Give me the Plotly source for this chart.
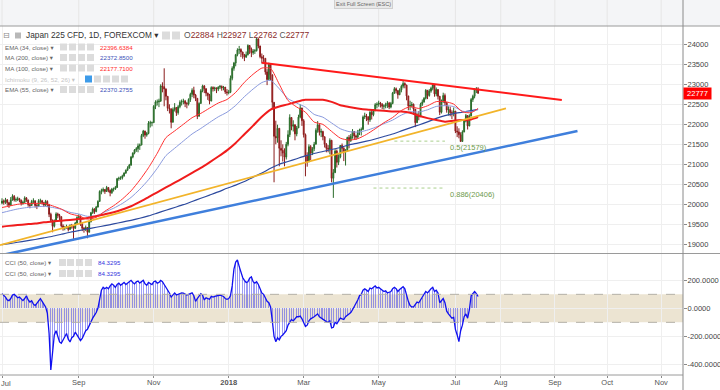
import pandas as pd
import plotly.graph_objects as go
from plotly.subplots import make_subplots

# ---------------- data ----------------
dates = pd.bdate_range("2017-07-03", "2018-07-19")
first_open = 20030
closes = [
    20080, 20050, 20110, 20040, 19980, 20110, 20200, 20110, 20120, 20140,
    20100, 20020, 20050, 20160, 20110, 19990, 19970, 20070, 20090, 19970,
    19950, 20090, 20090, 20040, 19980, 20070, 19990, 19750, 19600, 19450,
    19580, 19760, 19720, 19690, 19460, 19400, 19420, 19440, 19370, 19470,
    19460, 19400, 19530, 19670, 19700, 19500, 19400, 19380, 19420, 19300,
    19560, 19790, 19880, 19820, 19930, 20070, 20320, 20340, 20370, 20320,
    20420, 20350, 20290, 20380, 20380, 20420, 20640, 20650, 20660, 20710,
    20780, 20850, 20900, 20980, 21180, 21280, 21360, 21390, 21460, 21480,
    21720, 21830, 21730, 21770, 22030, 22040, 22040, 22450, 22560, 22560,
    22580, 22960, 22940, 22880, 22700, 22400, 22390, 22050, 22370, 22420,
    22290, 22440, 22550, 22570, 22580, 22520, 22510, 22620, 22750, 22850,
    22730, 22650, 22200, 22520, 22840, 22960, 22890, 22780, 22720, 22580,
    22920, 22890, 22910, 22880, 22930, 22950, 22910, 22930, 22810, 22790,
    22800, 23150, 23400, 23530, 23740, 23860, 23870, 23810, 23730, 23680,
    23740, 23970, 23880, 23790, 23830, 23840, 24140, 23960, 23690, 23650,
    23650, 23310, 23120, 23500, 23240, 22550, 21700, 21660, 21900, 21400,
    21350, 21280, 21180, 21500, 21740, 22170, 21950, 21990, 21760, 21910,
    22180, 22410, 22090, 21740, 21200, 21060, 21440, 21280, 21390, 21500,
    21850, 21990, 21800, 21820, 21690, 21500, 21400, 21380, 21600, 20650,
    20790, 21330, 21050, 21180, 21470, 21400, 21310, 21340, 21670, 21590,
    21700, 21820, 21710, 21680, 21800, 21860, 21870, 22180, 22210, 22190,
    22110, 22300, 22240, 22340, 22490, 22500, 22530, 22500, 22450, 22460,
    22490, 22530, 22430, 22520, 22780, 22890, 22840, 22740, 22860, 22950,
    23020, 22980, 22710, 22460, 22470, 22500, 22380, 22040, 22220, 22190,
    22500, 22560, 22650, 22850, 22720, 22830, 22900, 22990, 22760, 22870,
    22700, 22300, 22580, 22720, 22540, 22360, 22370, 22290, 22290, 22330,
    21830, 21810, 21740, 21570, 21810, 22080, 22220, 21960, 22210, 22620,
    22700, 22860, 22884, 22777,
]
highs = [
    20150, 20120, 20160, 20130, 20060, 20180, 20250, 20230, 20170, 20190,
    20160, 20120, 20090, 20200, 20180, 20090, 20030, 20110, 20150, 20080,
    20010, 20130, 20140, 20110, 20060, 20110, 20100, 20010, 19790, 19620,
    19620, 19800, 19790, 19760, 19700, 19500, 19460, 19490, 19460, 19500,
    19510, 19480, 19560, 19700, 19750, 19720, 19530, 19430, 19470, 19430,
    19590, 19810, 19920, 19900, 19960, 20100, 20350, 20390, 20420, 20380,
    20460, 20420, 20370, 20410, 20420, 20460, 20660, 20690, 20700, 20740,
    20800, 20870, 20950, 21010, 21210, 21300, 21380, 21430, 21520, 21520,
    21760, 21860, 21840, 21810, 22080, 22090, 22070, 22480, 22600, 22620,
    22640, 23000, 23050, 23400, 22900, 22700, 22500, 22380, 22420, 22530,
    22420, 22480, 22600, 22620, 22640, 22610, 22560, 22650, 22790, 22900,
    22940, 22760, 22640, 22550, 22880, 22990, 22980, 22900, 22790, 22760,
    22950, 22950, 22940, 22920, 22950, 22980, 22970, 22960, 22900, 22880,
    22860, 23220, 23450, 23560, 23760, 23900, 23960, 23900, 23780, 23760,
    23820, 24000, 23980, 23920, 23880, 23880, 24160, 24130, 23900, 23770,
    23730, 23600, 23380, 23540, 23530, 23050, 22150, 22090, 21990, 21650,
    21600, 21500, 21400, 21560, 21850, 22250, 22180, 22100, 21960, 21960,
    22240, 22500, 22400, 22130, 21770, 21300, 21500, 21480, 21430, 21560,
    21900, 22080, 21960, 21890, 21840, 21690, 21530, 21480, 21650, 21610,
    20880, 21380, 21370, 21250, 21480, 21520, 21430, 21380, 21690, 21730,
    21760, 21880, 21800, 21740, 21860, 21890, 21920, 22220, 22290, 22260,
    22190, 22330, 22360, 22380, 22530, 22550, 22590, 22560, 22530, 22500,
    22540, 22580, 22560, 22560, 22810, 22930, 22920, 22860, 22900, 22990,
    23080, 23050, 22990, 22710, 22590, 22560, 22520, 22350, 22280, 22330,
    22540, 22620, 22680, 22880, 22830, 22880, 22940, 23020, 22960, 22920,
    22860, 22710, 22620, 22790, 22770, 22560, 22450, 22440, 22350, 22420,
    22330, 21950, 21900, 21800, 21850, 22120, 22260, 22150, 22250, 22660,
    22740, 22900, 22930, 22927,
]
lows = [
    20000, 19990, 20010, 19960, 19910, 19960, 20090, 20070, 20060, 20080,
    20050, 19970, 19990, 20030, 20060, 19940, 19900, 19960, 20020, 19920,
    19880, 19940, 20010, 19990, 19930, 19950, 19930, 19680, 19560, 19300,
    19420, 19570, 19650, 19600, 19420, 19340, 19350, 19390, 19320, 19370,
    19390, 19100, 19380, 19500, 19620, 19460, 19330, 19290, 19330, 19150,
    19430, 19550, 19760, 19760, 19800, 19920, 20080, 20250, 20300, 20260,
    20310, 20300, 20200, 20260, 20320, 20360, 20410, 20590, 20610, 20620,
    20690, 20760, 20830, 20900, 20960, 21150, 21250, 21310, 21300, 21360,
    21580, 21680, 21640, 21690, 21750, 21920, 21950, 22200, 22380, 22470,
    22430, 22560, 22800, 22450, 22600, 22330, 22270, 21900, 22050, 22320,
    22210, 22240, 22400, 22470, 22500, 22430, 22400, 22470, 22560, 22680,
    22650, 22580, 22130, 22230, 22520, 22800, 22780, 22700, 22610, 22500,
    22600, 22820, 22830, 22780, 22830, 22880, 22840, 22850, 22760, 22720,
    22750, 22780, 23100, 23340, 23450, 23700, 23760, 23680, 23640, 23580,
    23660, 23720, 23760, 23680, 23740, 23760, 23820, 23900, 23650, 23520,
    23560, 23240, 22980, 23150, 23100, 22400, 20550, 21500, 21540, 20950,
    21200, 21070, 20950, 21120, 21450, 21680, 21850, 21820, 21600, 21700,
    21950, 22150, 21960, 21670, 20700, 20940, 21100, 21100, 21230, 21330,
    21560, 21790, 21720, 21680, 21600, 21420, 21300, 21300, 21250, 20550,
    20160, 20800, 20920, 20980, 21150, 21300, 21080, 20970, 21320, 21400,
    21560, 21640, 21620, 21610, 21640, 21730, 21720, 21890, 22130, 22080,
    21990, 22060, 22120, 22200, 22330, 22400, 22440, 22420, 22380, 22370,
    22400, 22410, 22380, 22400, 22500, 22760, 22770, 22640, 22730, 22800,
    22900, 22900, 22600, 22350, 22350, 22420, 22240, 21930, 22050, 22100,
    22350, 22460, 22540, 22620, 22630, 22690, 22790, 22850, 22690, 22700,
    22620, 22230, 22270, 22530, 22470, 22290, 22220, 22200, 22130, 22200,
    21780, 21680, 21650, 21580, 21580, 21800, 22050, 21870, 21950, 22200,
    22560, 22650, 22780, 22762,
]
cci_values = [
    105, 95, 80, 60, 55, 70, 95, 100, 85, 75,
    80, 65, 55, 70, 90, 60, 45, 55, 30, 20,
    40, 60, 70, 50, 30, 10, -35, -180, -440, -300,
    -190, -160, -200, -240, -250, -230, -200, -180, -220, -240,
    -210, -200, -170, -190, -210, -230, -215, -190, -160, -150,
    -120, -90, -70, -50, -30, 0, 60, 130, 150, 140,
    150, 140, 160, 175, 165, 150, 170, 180, 165, 175,
    185, 170, 180, 190, 200, 185, 175, 190, 195, 180,
    190, 200, 175, 165, 185, 180, 170, 190, 195, 180,
    185, 200, 190, 170, 150, 135, 110, 80, 100, 110,
    95, 100, 105, 110, 108, 100, 95, 100, 105, 110,
    90, 50, 70, 90, 105, 95, 60, 75, 70, 65,
    85, 80, 85, 90, 95, 95, 90, 85, 70, 65,
    70, 90, 160, 280, 330, 345, 300, 250, 220, 200,
    185, 190, 215, 225, 190, 180, 190, 170, 140, 110,
    100, 70, 50, 40, 10, -90, -200, -238, -210, -225,
    -200, -190, -170, -160, -120, -100, -80, -90, -70, -60,
    -60, -55, -75, -100, -130, -120, -90, -75, -70, -60,
    -50, -40, -60, -70, -80, -90, -95, -100, -90, -140,
    -135, -100, -110, -90, -70, -75, -80, -60, -50, -40,
    -30, -10, 10, 30, 60, 90, 100, 130, 140, 130,
    120, 145, 140, 150, 160, 145, 150, 140, 130, 120,
    125, 110, 115, 120, 140, 150, 140, 120, 135, 145,
    155, 140, 90, 50, 20, 10, 10, 30, 45, 40,
    60, 75, 90, 120, 110, 130, 140, 150, 120, 130,
    110, 40, 60, 70, 40, -20, -40, -60, -70, -65,
    -150, -190, -238, -160, -120, -60, -40, -70, -10, 90,
    110, 120, 105, 84.33,
]
ma_days = [0] + list(range(4, 270, 5)) + [273]
ema34 = [19920, 19954, 20000, 20022, 20021, 20023, 19961, 19880, 19763, 19709,
         19630, 19672, 19828, 19964, 20130, 20336, 20605, 20913, 21274, 21666,
         21834, 22000, 22165, 22273, 22404, 22532, 22620, 22799, 23051, 23252,
         23406, 23395, 23000, 22595, 22432, 22303, 22056, 21998, 21822, 21654,
         21605, 21640, 21747, 21887, 22040, 22170, 22345, 22442, 22397, 22463,
         22567, 22567, 22506, 22314, 22290, 22397]
ema55 = [19790, 19833, 19883, 19917, 19934, 19950, 19921, 19875, 19799, 19758,
         19699, 19715, 19809, 19901, 20020, 20172, 20375, 20614, 20899, 21217,
         21401, 21581, 21758, 21896, 22044, 22187, 22302, 22472, 22691, 22882,
         23044, 23097, 22889, 22643, 22529, 22429, 22247, 22178, 22033, 21889,
         21818, 21805, 21848, 21922, 22016, 22105, 22230, 22313, 22305, 22363,
         22447, 22467, 22444, 22329, 22311, 22370]
ma100 = [19440, 19460, 19480, 19500, 19520, 19550, 19570, 19590, 19610, 19630,
         19660, 19700, 19750, 19800, 19870, 19950, 20060, 20180, 20300, 20420,
         20540, 20661, 20787, 20912, 21050, 21194, 21349, 21533, 21752, 21966,
         22189, 22368, 22445, 22498, 22565, 22614, 22611, 22612, 22561, 22478,
         22435, 22398, 22368, 22354, 22339, 22321, 22320, 22290, 22214, 22155,
         22105, 22066, 22090, 22107, 22120, 22178]
ma200 = [18990, 19015, 19050, 19085, 19120, 19160, 19200, 19250, 19300, 19340,
         19385, 19425, 19465, 19510, 19555, 19600, 19650, 19710, 19780, 19850,
         19920, 19990, 20070, 20150, 20230, 20310, 20400, 20480, 20570, 20680,
         20780, 20900, 21000, 21070, 21140, 21210, 21270, 21320, 21370, 21420,
         21487, 21530, 21578, 21633, 21695, 21758, 21835, 21912, 21983, 22060,
         22147, 22217, 22268, 22302, 22342, 22373]

trend_red_x = ["2018-01-26", "2018-09-05"]
trend_red_y = [23540, 22607]
trend_yellow_x = ["2017-06-29 20:24", "2018-08-04"]
trend_yellow_y = [18980, 22400]
trend_blue_x = ["2017-06-29 20:24", "2018-09-14"]
trend_blue_y = [18720, 21833]

fib_levels = [21579, 20406]
fib_labels = ["0.5(21579)", "0.886(20406)"]
fib_start = ["2018-05-14", "2018-04-26"]
fib_end = "2018-06-22"

price_ticks = [19000, 19500, 20000, 20500, 21000, 21500, 22000, 22500, 23000, 23500, 24000]
cci_ticks = [200, 0, -200, -400]
cci_tick_text = ["200.0000", "0.0000", "-200.0000", "-400.0000"]
month_ticks = ["2017-07-03", "2017-09-01", "2017-11-01", "2018-01-01", "2018-03-01",
               "2018-05-01", "2018-07-02", "2018-08-01", "2018-09-01", "2018-10-01", "2018-11-01"]
month_text = ["Jul", "Sep", "Nov", "<b>2018</b>", "Mar", "May", "Jul", "Aug", "Sep", "Oct", "Nov"]

title_text = "Japan 225 CFD, 1D, FOREXCOM"
ohlc = [("O", "22884"), ("H", "22927"), ("L", "22762"), ("C", "22777")]
legend_rows = [
    ("EMA (34, close)", "22396.6384", "#ff2b2b"),
    ("MA (200, close)", "22372.8500", "#3a4fb8"),
    ("MA (100, close)", "22177.7100", "#ff2b2b"),
    ("Ichimoku (9, 26, 52, 26)", "", ""),
    ("EMA (55, close)", "22370.2755", "#3a4fb8"),
]
cci_rows = [("CCI (50, close)", "84.3295"), ("CCI (50, close)", "84.3295")]
last_price = 22777

# ---------------- figure ----------------
FONT = "Liberation Sans, Arial, DejaVu Sans, sans-serif"
PW, PH = 683.0, 349.0


def px(x):
    return x / PW


def py(y):
    return (375.0 - y) / PH


opens = [first_open] + closes[:-1]
hi = [max(h, o, c) for h, o, c in zip(highs, opens, closes)]
lo = [min(l, o, c) for l, o, c in zip(lows, opens, closes)]
ma_dates = [dates[i] for i in ma_days]

fig = make_subplots(rows=2, cols=1, shared_xaxes=True, vertical_spacing=0.003)

fig.add_trace(go.Candlestick(
    x=dates, open=opens, high=hi, low=lo, close=closes,
    increasing=dict(line=dict(color="#2a6b2a", width=1), fillcolor="#3c9a3c"),
    decreasing=dict(line=dict(color="#8a1c1c", width=1), fillcolor="#e02424"),
    whiskerwidth=0, showlegend=False), row=1, col=1)

for vals, col, w in [(ma200, "#2d4a9e", 1.2), (ema55, "#8a9ade", 1.0),
                     (ma100, "#f01c1c", 2.0), (ema34, "#ff3030", 1.0)]:
    fig.add_trace(go.Scatter(x=ma_dates, y=vals, mode="lines",
                             line=dict(color=col, width=w, shape="spline", smoothing=0.6),
                             showlegend=False), row=1, col=1)

for tx, ty, col, w in [(trend_yellow_x, trend_yellow_y, "#f2b42a", 1.8),
                       (trend_blue_x, trend_blue_y, "#3f7fdc", 2.6),
                       (trend_red_x, trend_red_y, "#ff1a1a", 2.0)]:
    fig.add_trace(go.Scatter(x=tx, y=ty, mode="lines", line=dict(color=col, width=w),
                             showlegend=False), row=1, col=1)

for lvl, st in zip(fib_levels, fib_start):
    fig.add_trace(go.Scatter(x=[st, fib_end], y=[lvl, lvl], mode="lines",
                             line=dict(color="#a9cf8c", width=1, dash="dot"),
                             showlegend=False), row=1, col=1)

fig.add_trace(go.Bar(x=dates, y=cci_values, width=40000000,
                     marker=dict(color="rgba(60,60,235,0.5)", line=dict(width=0)),
                     showlegend=False), row=2, col=1)
fig.add_trace(go.Scatter(x=dates, y=cci_values, mode="lines",
                         line=dict(color="#1010f0", width=1.3), showlegend=False),
              row=2, col=1)

weekends = [d.strftime("%Y-%m-%d") for d in pd.date_range("2017-06-24", "2018-07-15")
            if d.dayofweek >= 5]
GRID = "#efefef"
fig.update_xaxes(type="date", rangebreaks=[dict(values=weekends)],
                 range=["2017-06-29 20:24", "2018-11-13 12:00"], autorange=False,
                 automargin=False,
                 rangeslider_visible=False, showgrid=True, gridcolor=GRID,
                 tickvals=month_ticks, ticktext=month_text, zeroline=False,
                 showline=False)
fig.update_xaxes(showticklabels=False, ticks="", row=1, col=1)
fig.update_xaxes(ticks="outside", ticklen=2, tickcolor="#8a8a8a", ticklabelstandoff=-2,
                 tickfont=dict(size=7.5, color="#555", family=FONT), row=2, col=1)

fig.update_layout(
    width=720, height=390, margin=dict(l=0, r=37, t=26, b=15, autoexpand=False),
    paper_bgcolor="white", plot_bgcolor="white", showlegend=False,
    hovermode=False, bargap=0,
    yaxis=dict(domain=[py(253), 1.0], range=[18782, 24458], side="right", automargin=False,
               tickvals=price_ticks, tickformat="d", showgrid=True, gridcolor=GRID,
               ticks="outside", ticklen=3, tickcolor="#8a8a8a", zeroline=False,
               ticklabelstandoff=-1,
               tickfont=dict(size=7.5, color="#444", family=FONT)),
    yaxis2=dict(domain=[0.0, py(254)], range=[-476, 388], side="right", automargin=False,
                tickvals=cci_ticks, ticktext=cci_tick_text, showgrid=True, gridcolor=GRID,
                ticks="outside", ticklen=3, tickcolor="#8a8a8a", zeroline=False,
                ticklabelstandoff=-1,
                tickfont=dict(size=7.5, color="#444", family=FONT)),
)

shapes = []
# CCI band
shapes.append(dict(type="rect", xref="paper", yref="y2", x0=0, x1=1, y0=-100, y1=100,
                   fillcolor="#ece4d2", line=dict(width=0), layer="below"))
for v in (100, -100):
    shapes.append(dict(type="line", xref="paper", yref="y2", x0=0, x1=1, y0=v, y1=v,
                       line=dict(color="#b4b0a8", width=1, dash="dash")))
# top strip
shapes.append(dict(type="rect", xref="paper", yref="paper", x0=0, x1=px(720),
                   y0=1.0, y1=py(0), fillcolor="#f4f5f7", line=dict(width=0), layer="below"))
for t in month_ticks:
    shapes.append(dict(type="line", xref="x", yref="paper", x0=t, x1=t, y0=1.0, y1=py(0),
                       line=dict(color="#e6e6e6", width=1)))
# frame lines
shapes.append(dict(type="line", xref="paper", yref="paper", x0=0, x1=px(720),
                   y0=1.0, y1=1.0, line=dict(color="#9a9a9a", width=1)))
shapes.append(dict(type="line", xref="paper", yref="paper", x0=0, x1=px(720),
                   y0=py(253.5), y1=py(253.5), line=dict(color="#9a9a9a", width=1)))
shapes.append(dict(type="line", xref="paper", yref="paper", x0=0, x1=1,
                   y0=0, y1=0, line=dict(color="#9a9a9a", width=1)))
shapes.append(dict(type="line", xref="paper", yref="paper", x0=1, x1=1,
                   y0=py(390), y1=py(0), line=dict(color="#8a8a8a", width=1)))


def box(x0, x1, yc, color="#dcdcdc", h=7):
    shapes.append(dict(type="rect", xref="paper", yref="paper", x0=px(x0), x1=px(x1),
                       y0=py(yc + h / 2), y1=py(yc - h / 2), fillcolor=color,
                       line=dict(width=0)))


ann = []


def txt(x, y, s, size, color, anchor="left", **kw):
    d = dict(xref="paper", yref="paper", x=px(x), y=py(y), text=s, showarrow=False,
             xanchor=anchor, yanchor="middle", font=dict(size=size, color=color, family=FONT))
    d.update(kw)
    ann.append(d)


# title row
txt(1, 35.5, "⊟", 8, "#888")
box(15, 21, 35.5, "#b8b8b8", 6)
txt(24, 35.5, title_text + " ▾", 8.3, "#333")
box(162, 170, 35.5, "#dcdcdc", 8)
box(172, 180, 35.5, "#dcdcdc", 8)
ohlc_html = "&nbsp;".join(f"{k}<span style='color:#8c2b2b'>{v}</span>" for k, v in ohlc)
txt(182, 35.5, ohlc_html, 8.5, "#555")

row_y = [47, 57.5, 68, 79, 89.5]
for (lab, val, col), yy in zip(legend_rows, row_y):
    if val:
        txt(3, yy, lab + " ▾", 6.2, "#666")
        for x0 in (60, 69, 78, 87):
            box(x0, x0 + 7, yy)
        txt(98, yy, val, 6.2, col)
    else:
        txt(3, yy, lab + " ▾", 6.2, "#c4c4c4")
        box(85, 92, yy, "#3d9be9")
        for x0 in (94, 103, 112, 121):
            box(x0, x0 + 7, yy)

for (lab, val), yy in zip(cci_rows, [262.5, 273.5]):
    txt(3, yy, lab + " ▾", 6.2, "#666")
    for x0 in (59, 67, 76, 85):
        box(x0, x0 + 7, yy)
    txt(96, yy, val, 6.2, "#3333dd")

# first month label at the left edge (kept fully visible)
txt(0, 383, month_text[0], 7.5, "#555", anchor="left", borderpad=0)

# fib labels
for lvl, lab in zip(fib_levels, fib_labels):
    ann.append(dict(xref="paper", yref="y", x=px(448), y=lvl, text=lab, showarrow=False,
                    xanchor="left", yanchor="top",
                    font=dict(size=7.5, color="#6e9a4c", family=FONT)))

# last price label
ann.append(dict(xref="paper", yref="y", x=1.0, y=last_price, text=str(last_price),
                showarrow=False, xanchor="left", yanchor="middle", bgcolor="#ff0000",
                width=25, borderpad=1, font=dict(size=7.5, color="white", family=FONT)))

# exit full screen button
txt(363, 4, "Exit Full Screen (ESC)", 5.5, "#666", anchor="center",
    bgcolor="#e9e9e9", bordercolor="#d0d0d0", borderwidth=1, borderpad=1)

fig.update_layout(shapes=shapes, annotations=ann)
fig.write_html("out.html", config={"displayModeBar": False})

# remove the browser's default page margin so the figure sits at the window's corner
with open("out.html", "r", encoding="utf-8") as f:
    page = f.read()
page = page.replace("<head>", "<head><style>html,body{margin:0;padding:0;overflow:hidden;}</style>", 1)
with open("out.html", "w", encoding="utf-8") as f:
    f.write(page)
